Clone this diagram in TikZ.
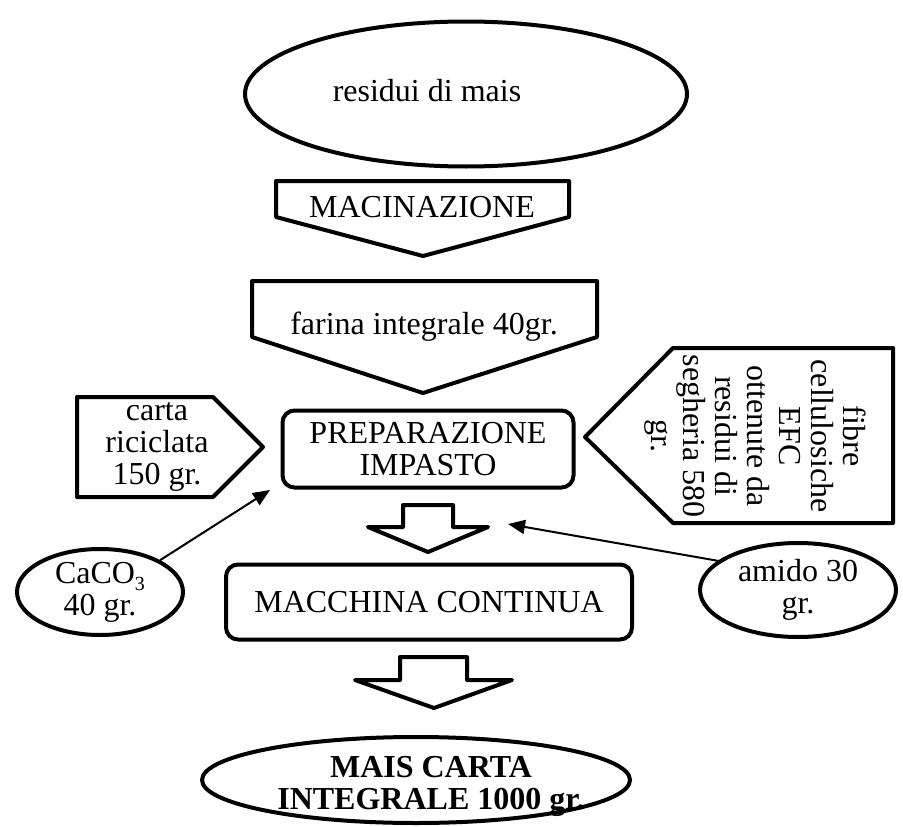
\documentclass[tikz,border=0pt]{standalone}
\usepackage{fontspec}
\setmainfont{Liberation Serif}
\usetikzlibrary{shapes.geometric,arrows.meta}

\tikzset{
  testo/.style={font=\fontsize{32}{32}\selectfont, align=center, inner sep=0pt},
  bordo/.style={line width=4pt, line join=round},
  ovale/.style={ellipse, draw, line width=4pt, inner sep=0pt, testo},
  scatola/.style={draw, line width=4pt, rounded corners=12pt, inner sep=0pt, testo},
  freccia/.style={line width=2pt, -{Triangle[length=17pt,width=14pt]}}
}
\newcommand{\pedice}[1]{\raisebox{-7pt}{\fontsize{20}{20}\selectfont #1}}

\begin{document}
\begin{tikzpicture}[x=1pt,y=-1pt]
        \useasboundingbox (0,0) rectangle (903,827);
        % materia prima
        \node[ovale, minimum width=442pt, minimum height=145pt] (residui) at (466,94) {};
        \node[testo] (residuitesto) at (427,91) {residui di mais};
        % macinazione e farina
        \draw[bordo] (276,181) -- (569,181) -- (569,217) -- (423,256) -- (276,217) -- cycle;
        \node[testo] (macinazione) at (422,207) {MACINAZIONE};
        \draw[bordo] (252,281) -- (597,281) -- (597,337) -- (423,393) -- (252,337) -- cycle;
        \node[testo] (farina) at (424,327) {farina integrale 40gr.};
        % ingressi laterali
        \draw[bordo] (77,397) -- (213,397) -- (263,447) -- (213,497) -- (77,497) -- cycle;
        \node[testo] (carta) at (157,447) {carta\\riciclata\\150 gr.};
        \draw[bordo] (585,437) -- (673,348) -- (893,348) -- (893,523) -- (673,523) -- cycle;
        \node[testo, rotate=-90] (fibre) at (755,436) {fibre\\cellulosiche\\EFC\\ottenute da\\residui di\\segheria 580\\gr.};
        % lavorazione
        \node[scatola, minimum width=291pt, minimum height=77pt] (prep) at (428,449) {PREPARAZIONE\\IMPASTO};
        \node[scatola, minimum width=406pt, minimum height=75pt] (macchina) at (429,602) {MACCHINA CONTINUA};
        \draw[bordo] (403,505) -- (453,505) -- (453,527) -- (488,527) -- (428,552) -- (368,527) -- (403,527) -- cycle;
        \draw[bordo] (400,657) -- (467,657) -- (467,680) -- (512,680) -- (434,708) -- (355,680) -- (400,680) -- cycle;
        % additivi
        \node[ovale, minimum width=166pt, minimum height=86pt] (caco) at (100,592) {CaCO\pedice{3}\\40 gr.};
        \node[ovale, minimum width=196pt, minimum height=94pt] (amido) at (798,590) {amido 30\\gr.};
        \coordinate (entrata1) at (270,490);
        \coordinate (entrata2) at (508,524);
        \draw[freccia] (caco.north east) -- (entrata1);
        \draw[freccia] (amido.160) -- (entrata2);
        % prodotto finale
        \node[ovale, minimum width=428pt, minimum height=86pt] (prodotto) at (416,780) {};
        \node[testo, font=\fontsize{32}{32}\selectfont\bfseries] (prodottotesto) at (431,786) {MAIS CARTA\\INTEGRALE 1000 gr.};
\end{tikzpicture}
\end{document}
